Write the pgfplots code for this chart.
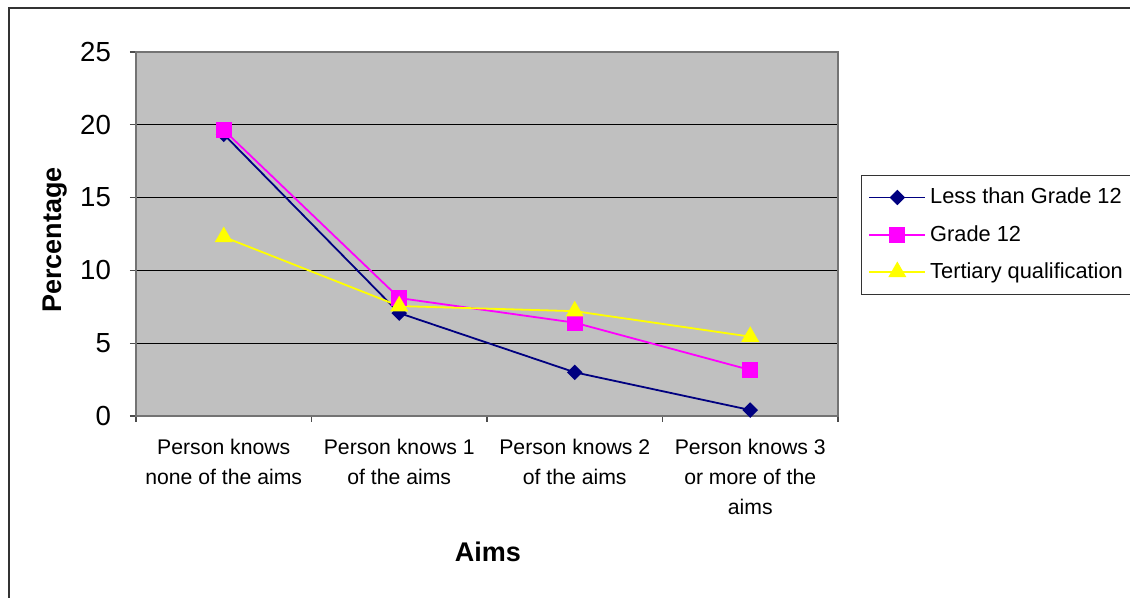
\documentclass[border=0pt]{standalone}
\usepackage{pgfplots}
\pgfplotsset{compat=1.18}
\usepackage{fontspec}
\setmainfont{Liberation Sans}
\definecolor{plotgray}{HTML}{C0C0C0}
\definecolor{navyc}{HTML}{000080}
\definecolor{magc}{HTML}{FF00FF}
\definecolor{yelc}{HTML}{FFFF00}
\begin{document}
\begin{tikzpicture}
\useasboundingbox (0,0) rectangle (565pt,-299pt);
\draw[line width=1pt, black!80] (4.5pt,-299pt) -- (4.5pt,-4pt) -- (565pt,-4pt);
\begin{axis}[
  at={(68pt,-208pt)}, anchor=south west,
  scale only axis, width=351pt, height=182pt,
  xmin=0, xmax=4, ymin=0, ymax=25,
  axis background/.style={fill=plotgray},
  axis line style={draw=black!55, line width=0.8pt},
  ytick={0,5,...,25},
  ymajorgrids, grid style={black, line width=0.6pt},
  xtick={0,1,2,3,4}, xticklabels={},
  extra x ticks={0.5,1.5,2.5,3.5},
  extra x tick labels={Person knows\\none of the aims, Person knows 1\\of the aims, Person knows 2\\of the aims, Person knows 3\\or more of the\\aims},
  extra x tick style={major tick length=0pt, grid=none,
     xticklabel style={align=center, font=\fontsize{10.6}{15}\selectfont, yshift=-8pt}},
  tick align=outside, major tick length=3pt,
  tick style={black!70, line width=0.6pt},
  xtick pos=bottom, ytick pos=left,
  /pgf/number format/assume math mode=true,
  yticklabel style={font=\fontsize{13.8}{16}\selectfont, xshift=-6pt},
  legend style={at={(1.0328,0.663)}, anchor=north west, draw=black!80, fill=white,
     font=\fontsize{10.9}{13}\selectfont, row sep=5.2pt, inner xsep=3.5pt, inner ysep=4.5pt,
     cells={anchor=west}},
  legend image code/.code={
     \draw[#1, mark repeat=2, mark phase=2] plot coordinates {(0pt,0pt) (14pt,0pt) (28pt,0pt)};},
  clip=false,
]
\addplot[navyc, line width=0.9pt, mark=square*, mark size=2.3pt, mark options={rotate=45, fill=navyc, draw=navyc}]
  coordinates {(0.5,19.35) (1.5,7.07) (2.5,3.0) (3.5,0.41)};
\addlegendentry{Less than Grade 12}
\addplot[magc, line width=0.9pt, mark=square*, mark size=3.5pt, mark options={fill=magc, draw=magc}]
  coordinates {(0.5,19.64) (1.5,8.1) (2.5,6.41) (3.5,3.16)};
\addlegendentry{Grade 12}
\addplot[yelc, line width=0.9pt, mark=triangle*, mark size=4.3pt, mark options={fill=yelc, draw=yelc}]
  coordinates {(0.5,12.3) (1.5,7.55) (2.5,7.2) (3.5,5.45)};
\addlegendentry{Tertiary qualification}
\end{axis}
\node[font=\bfseries\fontsize{13.5}{16}\selectfont] at (244pt,-276pt) {Aims};
\node[font=\bfseries\fontsize{13.5}{16}\selectfont, rotate=90] at (27.5pt,-120pt) {Percentage};
\end{tikzpicture}
\end{document}
